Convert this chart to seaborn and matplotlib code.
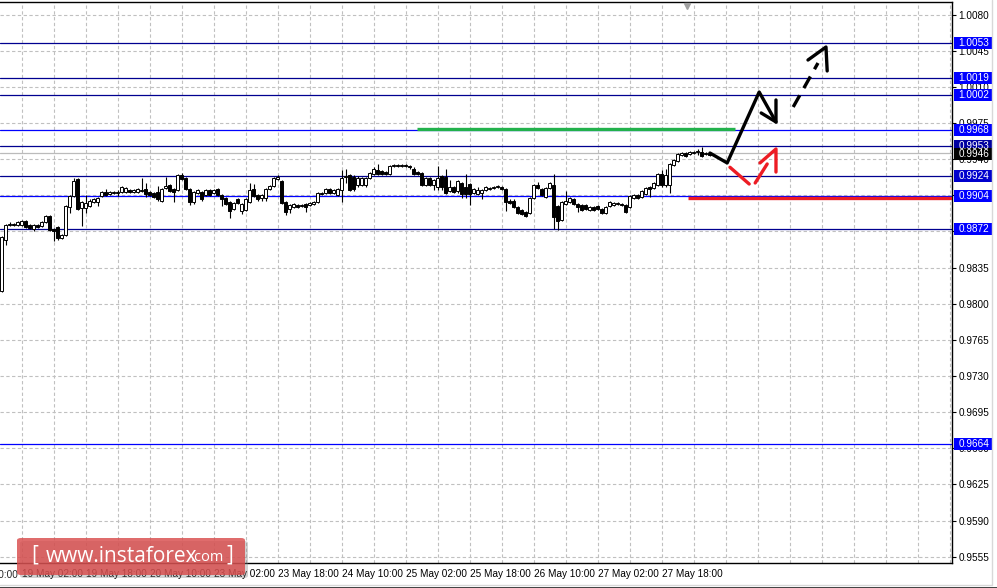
import matplotlib
matplotlib.use('Agg')
import matplotlib.pyplot as plt
import matplotlib.transforms as mtransforms
from matplotlib.patches import Rectangle, FancyBboxPatch
from matplotlib.lines import Line2D
import seaborn as sns

# H1 candles, EUR/CHF-like quotes
opens = [0.9812, 0.9862, 0.9876, 0.9877, 0.9876, 0.9876, 0.9880, 0.9876, 0.9872, 0.9876,
         0.9875, 0.9879, 0.9885, 0.9872, 0.9874, 0.9864, 0.9867, 0.9894, 0.9904, 0.9921,
         0.9893, 0.9893, 0.9895, 0.9899, 0.9899, 0.9904, 0.9908, 0.9906, 0.9907, 0.9907,
         0.9908, 0.9908, 0.9910, 0.9908, 0.9908, 0.9909, 0.9911, 0.9908, 0.9907, 0.9908,
         0.9900, 0.9912, 0.9915, 0.9911, 0.9910, 0.9925, 0.9922, 0.9911, 0.9899, 0.9907,
         0.9908, 0.9905, 0.9910, 0.9907, 0.9911, 0.9905, 0.9902, 0.9899, 0.9892, 0.9901,
         0.9890, 0.9891, 0.9899, 0.9911, 0.9905, 0.9902, 0.9902, 0.9911, 0.9914, 0.9921,
         0.9919, 0.9899, 0.9892, 0.9894, 0.9896, 0.9895, 0.9897, 0.9896, 0.9897, 0.9899,
         0.9906, 0.9907, 0.9911, 0.9907, 0.9905, 0.9910, 0.9923, 0.9925, 0.9923, 0.9915,
         0.9915, 0.9915, 0.9922, 0.9926, 0.9930, 0.9929, 0.9928, 0.9926, 0.9933, 0.9934,
         0.9933, 0.9934, 0.9933, 0.9931, 0.9928, 0.9927, 0.9915, 0.9922, 0.9915, 0.9913,
         0.9924, 0.9923, 0.9909, 0.9913, 0.9909, 0.9917, 0.9913, 0.9916, 0.9907, 0.9906,
         0.9907, 0.9910, 0.9911, 0.9912, 0.9913, 0.9913, 0.9911, 0.9900, 0.9900, 0.9894,
         0.9891, 0.9889, 0.9888, 0.9902, 0.9915, 0.9911, 0.9903, 0.9912, 0.9915, 0.9895,
         0.9881, 0.9897, 0.9899, 0.9901, 0.9897, 0.9896, 0.9896, 0.9891, 0.9894, 0.9895,
         0.9892, 0.9888, 0.9895, 0.9896, 0.9897, 0.9897, 0.9896, 0.9894, 0.9902, 0.9905,
         0.9903, 0.9906, 0.9913, 0.9912, 0.9915, 0.9926, 0.9915, 0.9915, 0.9934, 0.9938,
         0.9944, 0.9946, 0.9945, 0.9946, 0.9947, 0.9947, 0.9945, 0.9946]
highs = [0.9866, 0.9877, 0.9879, 0.9878, 0.9880, 0.9881, 0.9881, 0.9877, 0.9877, 0.9877,
         0.9880, 0.9886, 0.9886, 0.9873, 0.9875, 0.9868, 0.9896, 0.9905, 0.9922, 0.9922,
         0.9900, 0.9905, 0.9901, 0.9902, 0.9903, 0.9909, 0.9911, 0.9909, 0.9909, 0.9910,
         0.9914, 0.9913, 0.9911, 0.9911, 0.9912, 0.9922, 0.9917, 0.9909, 0.9908, 0.9914,
         0.9912, 0.9923, 0.9916, 0.9912, 0.9926, 0.9927, 0.9923, 0.9912, 0.9909, 0.9911,
         0.9909, 0.9911, 0.9911, 0.9911, 0.9912, 0.9906, 0.9903, 0.9900, 0.9899, 0.9902,
         0.9898, 0.9902, 0.9917, 0.9916, 0.9906, 0.9906, 0.9912, 0.9915, 0.9923, 0.9925,
         0.9920, 0.9900, 0.9897, 0.9898, 0.9897, 0.9897, 0.9898, 0.9899, 0.9900, 0.9908,
         0.9908, 0.9912, 0.9912, 0.9911, 0.9912, 0.9930, 0.9931, 0.9926, 0.9925, 0.9924,
         0.9923, 0.9923, 0.9928, 0.9932, 0.9935, 0.9930, 0.9929, 0.9934, 0.9935, 0.9935,
         0.9935, 0.9935, 0.9934, 0.9932, 0.9929, 0.9928, 0.9923, 0.9923, 0.9921, 0.9933,
         0.9925, 0.9931, 0.9920, 0.9914, 0.9920, 0.9918, 0.9926, 0.9917, 0.9912, 0.9913,
         0.9911, 0.9914, 0.9913, 0.9914, 0.9915, 0.9914, 0.9912, 0.9901, 0.9901, 0.9895,
         0.9892, 0.9890, 0.9903, 0.9916, 0.9918, 0.9912, 0.9913, 0.9918, 0.9926, 0.9896,
         0.9900, 0.9909, 0.9903, 0.9902, 0.9898, 0.9897, 0.9897, 0.9895, 0.9895, 0.9896,
         0.9893, 0.9895, 0.9900, 0.9899, 0.9899, 0.9898, 0.9897, 0.9905, 0.9906, 0.9906,
         0.9910, 0.9913, 0.9914, 0.9918, 0.9927, 0.9930, 0.9931, 0.9936, 0.9940, 0.9946,
         0.9947, 0.9947, 0.9948, 0.9948, 0.9950, 0.9952, 0.9947, 0.9947]
lows = [0.9811, 0.9857, 0.9875, 0.9875, 0.9875, 0.9875, 0.9873, 0.9872, 0.9870, 0.9873,
        0.9874, 0.9878, 0.9870, 0.9861, 0.9862, 0.9863, 0.9866, 0.9888, 0.9903, 0.9891,
        0.9875, 0.9888, 0.9894, 0.9898, 0.9895, 0.9903, 0.9904, 0.9905, 0.9906, 0.9904,
        0.9907, 0.9907, 0.9907, 0.9907, 0.9907, 0.9908, 0.9903, 0.9904, 0.9902, 0.9900,
        0.9899, 0.9911, 0.9908, 0.9899, 0.9909, 0.9920, 0.9910, 0.9896, 0.9897, 0.9906,
        0.9900, 0.9904, 0.9904, 0.9906, 0.9904, 0.9895, 0.9896, 0.9883, 0.9891, 0.9897,
        0.9887, 0.9890, 0.9898, 0.9903, 0.9900, 0.9900, 0.9900, 0.9910, 0.9913, 0.9920,
        0.9897, 0.9886, 0.9888, 0.9893, 0.9893, 0.9894, 0.9889, 0.9895, 0.9896, 0.9898,
        0.9905, 0.9906, 0.9906, 0.9906, 0.9904, 0.9899, 0.9917, 0.9909, 0.9909, 0.9913,
        0.9914, 0.9913, 0.9921, 0.9925, 0.9925, 0.9925, 0.9925, 0.9925, 0.9932, 0.9932,
        0.9932, 0.9932, 0.9931, 0.9925, 0.9925, 0.9914, 0.9914, 0.9914, 0.9910, 0.9910,
        0.9910, 0.9906, 0.9908, 0.9907, 0.9907, 0.9902, 0.9902, 0.9896, 0.9906, 0.9905,
        0.9901, 0.9909, 0.9910, 0.9911, 0.9912, 0.9910, 0.9890, 0.9897, 0.9893, 0.9887,
        0.9886, 0.9884, 0.9887, 0.9901, 0.9911, 0.9904, 0.9902, 0.9911, 0.9872, 0.9871,
        0.9880, 0.9896, 0.9898, 0.9896, 0.9889, 0.9890, 0.9891, 0.9890, 0.9890, 0.9891,
        0.9887, 0.9887, 0.9894, 0.9895, 0.9896, 0.9895, 0.9888, 0.9893, 0.9901, 0.9901,
        0.9902, 0.9905, 0.9903, 0.9911, 0.9914, 0.9913, 0.9913, 0.9907, 0.9933, 0.9937,
        0.9943, 0.9942, 0.9944, 0.9945, 0.9944, 0.9942, 0.9944, 0.9943]
closes = [0.9865, 0.9876, 0.9877, 0.9876, 0.9879, 0.9880, 0.9874, 0.9873, 0.9876, 0.9874,
          0.9879, 0.9885, 0.9871, 0.9870, 0.9864, 0.9867, 0.9895, 0.9904, 0.9919, 0.9892,
          0.9899, 0.9898, 0.9900, 0.9901, 0.9902, 0.9908, 0.9905, 0.9908, 0.9908, 0.9908,
          0.9913, 0.9912, 0.9908, 0.9910, 0.9911, 0.9910, 0.9906, 0.9905, 0.9903, 0.9901,
          0.9911, 0.9914, 0.9909, 0.9908, 0.9925, 0.9921, 0.9911, 0.9899, 0.9908, 0.9910,
          0.9901, 0.9910, 0.9905, 0.9910, 0.9905, 0.9901, 0.9897, 0.9890, 0.9898, 0.9898,
          0.9897, 0.9901, 0.9910, 0.9904, 0.9901, 0.9905, 0.9911, 0.9914, 0.9922, 0.9923,
          0.9898, 0.9889, 0.9896, 0.9897, 0.9894, 0.9896, 0.9894, 0.9898, 0.9899, 0.9907,
          0.9907, 0.9911, 0.9907, 0.9910, 0.9911, 0.9922, 0.9924, 0.9910, 0.9911, 0.9922,
          0.9922, 0.9922, 0.9927, 0.9931, 0.9926, 0.9926, 0.9926, 0.9933, 0.9934, 0.9933,
          0.9934, 0.9933, 0.9932, 0.9926, 0.9926, 0.9915, 0.9922, 0.9915, 0.9920, 0.9922,
          0.9913, 0.9907, 0.9913, 0.9908, 0.9919, 0.9906, 0.9906, 0.9906, 0.9911, 0.9910,
          0.9910, 0.9913, 0.9912, 0.9913, 0.9914, 0.9911, 0.9899, 0.9898, 0.9894, 0.9888,
          0.9887, 0.9885, 0.9902, 0.9915, 0.9912, 0.9905, 0.9912, 0.9917, 0.9884, 0.9880,
          0.9899, 0.9900, 0.9902, 0.9897, 0.9894, 0.9891, 0.9892, 0.9894, 0.9891, 0.9892,
          0.9888, 0.9894, 0.9899, 0.9898, 0.9898, 0.9896, 0.9889, 0.9904, 0.9905, 0.9902,
          0.9909, 0.9912, 0.9911, 0.9917, 0.9926, 0.9915, 0.9925, 0.9935, 0.9939, 0.9945,
          0.9946, 0.9943, 0.9947, 0.9947, 0.9948, 0.9943, 0.9946, 0.9944]

# horizontal levels with their price tags on the right scale
levels = [1.0053, 1.0019, 1.0002, 0.9968, 0.9953, 0.9924, 0.9904, 0.9872, 0.9664]
level_colors = ['#000090', '#000090', '#000090', '#0000FF', '#000090', '#000090', '#0000FF', '#000090', '#0000FF']
tag_colors = ['#0000FF', '#0000FF', '#0000FF', '#0000FF', '#0000A0', '#0000CD', '#0000FF', '#0000FF', '#0000FF']
bid_price = 0.9946

# price scale
price_ticks = [1.0080, 1.0045, 1.0010, 0.9975, 0.9940, 0.9905, 0.9870, 0.9835, 0.9800,
               0.9765, 0.9730, 0.9695, 0.9660, 0.9625, 0.9590, 0.9555]
# time scale (bar index)
time_ticks = [-11, 5, 21, 37, 53, 69, 85, 101, 117, 133, 149, 165]
time_labels = ['18 May 10:00', '19 May 02:00', '19 May 18:00', '20 May 10:00', '23 May 02:00',
               '23 May 18:00', '24 May 10:00', '25 May 02:00', '25 May 18:00', '26 May 10:00',
               '27 May 02:00', '27 May 18:00']
grid_x = [-3, 5, 13, 21, 29, 37, 45, 53, 61, 69, 77, 85, 93, 101, 109, 117, 125, 133, 141,
          149, 157, 165, 173, 181, 189, 197, 205, 213, 221, 229, 237]

# forecast drawing (bar index, price)
green_x = [103.9, 183.4]
green_y = 0.9969
red_x = [171.6, 240.0]
red_y = 0.99025
main_arrow_x = [177.1, 181.4, 189.4, 193.6]
main_arrow_y = [0.99460, 0.99364, 1.00051, 0.99761]
main_head_x = [189.9, 193.6, 193.6]
main_head_y = [0.99848, 0.99761, 0.99974]
cont_arrow_x = [197.9, 204.1]
cont_arrow_y = [0.99906, 1.00332]
cont_head_x = [201.6, 206.1, 206.4]
cont_head_y = [1.00361, 1.00487, 1.00255]
alt_arrow_x = [182.1, 186.9, 188.4, 191.4]
alt_arrow_y = [0.99322, 0.99160, 0.99170, 0.99354]
alt_head_x = [189.6, 193.6, 193.6]
alt_head_y = [0.99364, 0.99499, 0.99276]

sns.set_style('white')
plt.rcParams['font.family'] = ['Liberation Sans', 'DejaVu Sans']

W, H = 997, 588
fig = plt.figure(figsize=(W / 100, H / 100), dpi=100)
ax = fig.add_axes([0, 1 - 563 / H, 952 / W, (563 - 2.3) / H])

ax.set_xlim(-0.375, 237.6)
ax.set_ylim(0.95489, 1.00920)

# grid
for p in price_ticks:
    ax.axhline(p, color='#C0C0C0', lw=0.8, ls=(0, (3, 2.2)), zorder=0)
for g in grid_x:
    ax.axvline(g, color='#C0C0C0', lw=0.8, ls=(0, (3, 2.2)), zorder=0)

# levels
for lv, col in zip(levels, level_colors):
    ax.axhline(lv, color=col, lw=0.9, zorder=1)
ax.axhline(bid_price, color='#BBBBBB', lw=0.9, zorder=1)

# candles
idx = list(range(len(opens)))
ax.vlines(idx, lows, highs, color='black', lw=0.8, zorder=2)
for i in idx:
    o, c = opens[i], closes[i]
    fc = 'white' if c >= o else 'black'
    ax.add_patch(Rectangle((i - 0.3, min(o, c)), 0.6, max(abs(c - o), 0.000001),
                           fc=fc, ec='black', lw=0.7, zorder=3))

# forecast lines and arrows
ax.hlines(green_y, green_x[0], green_x[1], color='#22B14C', lw=2.4, zorder=4)
ax.hlines(red_y, red_x[0], red_x[1], color='#ED1C24', lw=2.4, zorder=4)
sns.lineplot(x=main_arrow_x, y=main_arrow_y, sort=False, estimator=None, color='black',
             lw=2.4, ax=ax, zorder=5)
sns.lineplot(x=main_head_x, y=main_head_y, sort=False, estimator=None, color='black',
             lw=2.4, ax=ax, zorder=5)
sns.lineplot(x=cont_arrow_x, y=cont_arrow_y, sort=False, estimator=None, color='black',
             lw=2.4, ax=ax, zorder=5, linestyle=(0, (4, 2.5)))
sns.lineplot(x=cont_head_x, y=cont_head_y, sort=False, estimator=None, color='black',
             lw=2.4, ax=ax, zorder=5)
sns.lineplot(x=alt_arrow_x[:2], y=alt_arrow_y[:2], sort=False, estimator=None, color='#ED1C24',
             lw=2.4, ax=ax, zorder=5)
sns.lineplot(x=alt_arrow_x[2:], y=alt_arrow_y[2:], sort=False, estimator=None, color='#ED1C24',
             lw=2.4, ax=ax, zorder=5)
sns.lineplot(x=alt_head_x, y=alt_head_y, sort=False, estimator=None, color='#ED1C24',
             lw=2.4, ax=ax, zorder=5)

# chart-shift marker at the top
ax.plot([171.4], [1.0088], marker='v', ms=5, color='#A0A0A0', zorder=6, clip_on=False)

# axes styling
for s in ['left']:
    ax.spines[s].set_visible(False)
for s in ['top', 'right', 'bottom']:
    ax.spines[s].set_color('black')
    ax.spines[s].set_linewidth(1.0)
ax.yaxis.tick_right()
ax.set_yticks(price_ticks)
ax.set_yticklabels(['%.4f' % p for p in price_ticks])
ax.tick_params(axis='y', direction='out', length=3, width=0.8, pad=1.5, labelsize=7.2,
               colors='black')
ax.set_xticks(time_ticks[1:])
ax.set_xticklabels(time_labels[1:], ha='left')
ax.tick_params(axis='x', direction='inout', length=5, width=0.8, pad=1.5, labelsize=7.2,
               colors='black')
for lab in ax.get_xticklabels():
    lab.set_x(0)
ax.text(time_ticks[0], -0.012, time_labels[0], transform=mtransforms.blended_transform_factory(
    ax.transData, ax.transAxes), ha='left', va='top', fontsize=7.2, clip_on=False)

# price tags
tag_tr = mtransforms.blended_transform_factory(fig.transFigure, ax.transData)
tag_h = 12 * 0.00009686
for lv, col in zip(levels, tag_colors):
    ax.add_patch(Rectangle((954 / W, lv - tag_h / 2), 39 / W, tag_h, transform=tag_tr,
                           fc=col, ec='none', zorder=7, clip_on=False))
    ax.text(958.5 / W, lv, '%.4f' % lv, transform=tag_tr, color='white', fontsize=7.2,
            ha='left', va='center', zorder=8, clip_on=False)
ax.add_patch(Rectangle((954 / W, bid_price - tag_h / 2 - 0.00012), 39 / W, tag_h, transform=tag_tr,
                       fc='black', ec='none', zorder=7.5, clip_on=False))
ax.text(958.5 / W, bid_price - 0.00012, '%.4f' % bid_price, transform=tag_tr, color='white',
        fontsize=7.2, ha='left', va='center', zorder=8, clip_on=False)

# window frame bits
fig.add_artist(Line2D([992 / W, 992 / W], [1, 1 - 585 / H], color='#D8D8D8', lw=1))
fig.add_artist(Line2D([0, 992 / W], [1 - 585 / H, 1 - 585 / H], color='#D8D8D8', lw=1))
fig.add_artist(Line2D([0, 1], [1 - 587.5 / H, 1 - 587.5 / H], color='#202020', lw=1.2))

# watermark
fig.patches.append(FancyBboxPatch((20 / W, 1 - 578 / H), 228 / W, 37 / H,
                                  boxstyle='round,pad=0,rounding_size=0.004',
                                  transform=fig.transFigure, fc='#808080', ec='none',
                                  alpha=0.35, zorder=9))
fig.patches.append(FancyBboxPatch((17 / W, 1 - 575 / H), 228 / W, 37 / H,
                                  boxstyle='round,pad=0,rounding_size=0.004',
                                  transform=fig.transFigure, fc='#D94C4C', ec='none',
                                  alpha=0.82, zorder=10))
fig.text(31 / W, 1 - 555 / H, '[', color='white', fontsize=15, ha='left', va='center',
         family=['Open Sans', 'DejaVu Sans'], zorder=11)
fig.text(46 / W, 1 - 556 / H, 'www.instaforex', color='white', fontsize=15, ha='left',
         va='center', family=['Open Sans', 'DejaVu Sans'], zorder=11)
fig.text(191 / W, 1 - 557.5 / H, '.com', color='white', fontsize=10.5, ha='left',
         va='center', family=['Open Sans', 'DejaVu Sans'], zorder=11)
fig.text(226 / W, 1 - 555 / H, ']', color='white', fontsize=15, ha='left', va='center',
         family=['Open Sans', 'DejaVu Sans'], zorder=11)

fig.savefig('out.png', dpi=100, facecolor='white')
